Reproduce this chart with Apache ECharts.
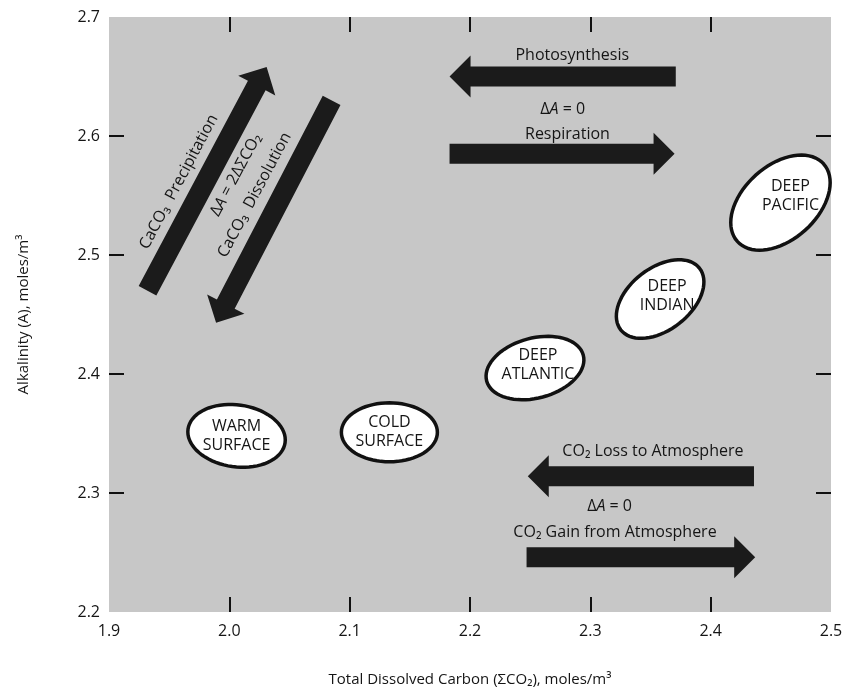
<!DOCTYPE html>
<html>
<head>
<meta charset="utf-8">
<script src="https://cdn.jsdelivr.net/npm/echarts@6/dist/echarts.min.js"></script>
<style>
  html, body { margin: 0; padding: 0; background: #ffffff; }
  #chart { width: 844px; height: 689px; }
</style>
</head>
<body>
<div id="chart"></div>
<script>
// Axis ranges (total dissolved carbon vs alkalinity, moles/m3)
const carbonRange = [1.9, 2.5];
const alkalinityRange = [2.2, 2.7];
const carbonInnerTicks = [2.0, 2.1, 2.2, 2.3, 2.4];
const alkalinityInnerTicks = [2.3, 2.4, 2.5, 2.6];

// Water masses: centre of each field
const waterMassNames = ['WARM\nSURFACE', 'COLD\nSURFACE', 'DEEP\nATLANTIC', 'DEEP\nINDIAN', 'DEEP\nPACIFIC'];
const waterMassCarbon = [2.006, 2.133, 2.254, 2.358, 2.458];
const waterMassAlkalinity = [2.348, 2.351, 2.405, 2.463, 2.544];

// Process vectors: from (carbon, alkalinity) to (carbon, alkalinity)
const processNames = ['Photosynthesis', 'Respiration', 'CaCO3 Precipitation', 'CaCO3 Dissolution', 'CO2 Loss to Atmosphere', 'CO2 Gain from Atmosphere'];
const processFromCarbon = [2.371, 2.183, 1.932, 2.085, 2.436, 2.247];
const processFromAlkalinity = [2.650, 2.585, 2.470, 2.630, 2.314, 2.246];
const processToCarbon = [2.183, 2.370, 2.031, 1.989, 2.248, 2.437];
const processToAlkalinity = [2.650, 2.585, 2.658, 2.443, 2.314, 2.246];

// Annotations anchored at (carbon, alkalinity)
const noteTexts = ['Photosynthesis', 'ΔA = 0', 'Respiration', 'CaCO₃  Precipitation', 'ΔA = 2ΔΣCO₂', 'CaCO₃  Dissolution', 'CO₂ Loss to Atmosphere', 'ΔA = 0', 'CO₂ Gain from Atmosphere'];
const noteCarbon = [2.285, 2.277, 2.281, 1.958, 2.0055, 2.021, 2.352, 2.316, 2.3205];
const noteAlkalinity = [2.668, 2.6227, 2.6017, 2.5614, 2.5673, 2.5505, 2.3346, 2.2884, 2.2666];

// ---- drawing styles ----
const FONT = '"Open Sans", "DejaVu Sans", sans-serif';
const INK = '#1b1b1b';
const TEXT = '#151515';
const ARROW = { shaft: 20, head: 42, headLength: 21 };
// outline semi-axes (px), tilt (deg, counter-clockwise) and label nudge for each field
const BLOB = [
  { rx: 49, ry: 31, tilt: -8, dx: 0, dy: 0 },
  { rx: 48, ry: 29.5, tilt: 0, dx: 0, dy: 0 },
  { rx: 50, ry: 30, tilt: 15, dx: 3, dy: -3 },
  { rx: 50, ry: 31, tilt: 38, dx: 7, dy: -3 },
  { rx: 58, ry: 37, tilt: 42, dx: 10, dy: -7 }
];
const NOTE_ANGLE = [0, 0, 0, 62, 62, 62, 0, 0, 0];

const waterMassData = waterMassNames.map((n, i) => [waterMassCarbon[i], waterMassAlkalinity[i], i]);
const processData = processNames.map((n, i) => [processFromCarbon[i], processFromAlkalinity[i], processToCarbon[i], processToAlkalinity[i]]);
const noteData = noteTexts.map((t, i) => [noteCarbon[i], noteAlkalinity[i], i]);

function richText(s) {
  const k = s.indexOf('ΔA');
  if (k < 0) return '{n|' + s + '}';
  return '{n|' + s.slice(0, k + 1) + '}{i|A}{n|' + s.slice(k + 2) + '}';
}

function renderArrow(params, api) {
  const a = api.coord([api.value(0), api.value(1)]);
  const b = api.coord([api.value(2), api.value(3)]);
  const dx = b[0] - a[0], dy = b[1] - a[1];
  const len = Math.hypot(dx, dy);
  const ux = dx / len, uy = dy / len, nx = -uy, ny = ux;
  const w = ARROW.shaft / 2, h = ARROW.head / 2, L = ARROW.headLength;
  const bx = b[0] - ux * L, by = b[1] - uy * L;
  const pts = [
    [a[0] + nx * w, a[1] + ny * w],
    [bx + nx * w, by + ny * w],
    [bx + nx * h, by + ny * h],
    [b[0], b[1]],
    [bx - nx * h, by - ny * h],
    [bx - nx * w, by - ny * w],
    [a[0] - nx * w, a[1] - ny * w]
  ];
  return { type: 'polygon', shape: { points: pts }, style: { fill: INK } };
}

function renderBlob(params, api) {
  const i = api.value(2);
  const c = api.coord([api.value(0), api.value(1)]);
  const s = BLOB[i];
  const th = s.tilt * Math.PI / 180;
  const pts = [];
  for (let k = 0; k < 72; k++) {
    const t = k / 72 * Math.PI * 2;
    const ex = s.rx * Math.cos(t), ey = s.ry * Math.sin(t);
    pts.push([c[0] + ex * Math.cos(th) - ey * Math.sin(th), c[1] - (ex * Math.sin(th) + ey * Math.cos(th))]);
  }
  return {
    type: 'group',
    children: [
      { type: 'polygon', shape: { points: pts }, style: { fill: '#ffffff', stroke: '#111111', lineWidth: 3.5 } },
      { type: 'text', x: c[0] + s.dx, y: c[1] + s.dy,
        style: { text: waterMassNames[i], fill: TEXT, font: '16px ' + FONT, lineHeight: 19, align: 'center', verticalAlign: 'middle' } }
    ]
  };
}

function renderNote(params, api) {
  const i = api.value(2);
  const c = api.coord([api.value(0), api.value(1)]);
  return {
    type: 'text', x: c[0], y: c[1], rotation: NOTE_ANGLE[i] * Math.PI / 180,
    style: {
      text: richText(noteTexts[i]), align: 'center', verticalAlign: 'middle',
      rich: {
        n: { fill: TEXT, fontSize: 16, fontFamily: FONT },
        i: { fill: TEXT, fontSize: 16, fontFamily: FONT, fontStyle: 'italic' }
      }
    }
  };
}

const tickStyle = { inside: true, length: 15, lineStyle: { color: '#111', width: 2 } };
const labelStyle = { color: TEXT, fontSize: 16, fontFamily: FONT };

const chart = echarts.init(document.getElementById('chart'), null, { renderer: 'canvas' });
chart.setOption({
  animation: false,
  backgroundColor: '#ffffff',
  grid: {
    left: 109, right: 13, top: 17, bottom: 77, outerBoundsMode: 'none',
    show: true, backgroundColor: '#c7c7c7', borderWidth: 0
  },
  xAxis: [
    {
      type: 'value', min: carbonRange[0], max: carbonRange[1], interval: 0.1, position: 'bottom',
      axisLine: { show: false }, splitLine: { show: false },
      axisTick: Object.assign({ customValues: carbonInnerTicks }, tickStyle),
      axisLabel: Object.assign({ margin: 11, formatter: v => v.toFixed(1) }, labelStyle),
      name: 'Total Dissolved Carbon (ΣCO₂), moles/m³', nameLocation: 'middle', nameGap: 60,
      nameTextStyle: { color: TEXT, fontSize: 15, fontFamily: FONT }
    },
    {
      type: 'value', min: carbonRange[0], max: carbonRange[1], interval: 0.1, position: 'top',
      axisLine: { show: false }, splitLine: { show: false }, axisLabel: { show: false },
      axisTick: Object.assign({ customValues: carbonInnerTicks }, tickStyle)
    }
  ],
  yAxis: [
    {
      type: 'value', min: alkalinityRange[0], max: alkalinityRange[1], interval: 0.1, position: 'left',
      axisLine: { show: false }, splitLine: { show: false },
      axisTick: Object.assign({ customValues: alkalinityInnerTicks }, tickStyle),
      axisLabel: Object.assign({ margin: 9, formatter: v => v.toFixed(1) }, labelStyle),
      name: 'Alkalinity (A), moles/m³', nameLocation: 'middle', nameGap: 78,
      nameTextStyle: { color: TEXT, fontSize: 15, fontFamily: FONT }
    },
    {
      type: 'value', min: alkalinityRange[0], max: alkalinityRange[1], interval: 0.1, position: 'right',
      axisLine: { show: false }, splitLine: { show: false }, axisLabel: { show: false },
      axisTick: Object.assign({ customValues: alkalinityInnerTicks }, tickStyle)
    }
  ],
  series: [
    { type: 'custom', name: 'processes', renderItem: renderArrow, data: processData, xAxisIndex: 0, yAxisIndex: 0, silent: true, z: 3 },
    { type: 'custom', name: 'water masses', renderItem: renderBlob, data: waterMassData, xAxisIndex: 0, yAxisIndex: 0, silent: true, z: 4 },
    { type: 'custom', name: 'notes', renderItem: renderNote, data: noteData, xAxisIndex: 0, yAxisIndex: 0, silent: true, z: 5 }
  ]
});
</script>
</body>
</html>
